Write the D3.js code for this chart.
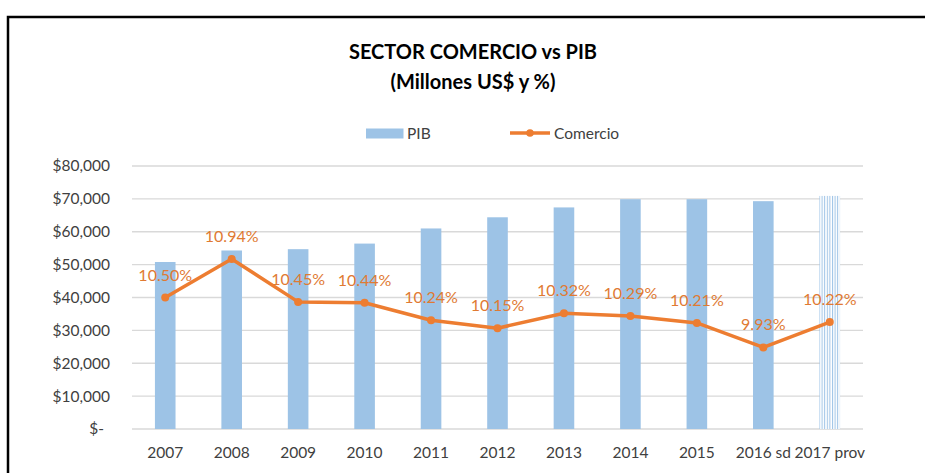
<!DOCTYPE html>
<html>
<head>
<meta charset="utf-8">
<script src="https://cdn.jsdelivr.net/npm/d3@7/dist/d3.min.js"></script>
<style>
  html, body { margin: 0; padding: 0; background: #fff; }
  svg { display: block; }
  text { font-family: Lato, "Open Sans", sans-serif; }
</style>
</head>
<body>
<svg id="chart" width="925" height="473"></svg>
<script>
const categories = ["2007","2008","2009","2010","2011","2012","2013","2014","2015","2016 sd","2017 prov"];
const pib = [50800, 54300, 54700, 56400, 61000, 64400, 67400, 69900, 69900, 69300, 70900];
const comercio = [10.50, 10.94, 10.45, 10.44, 10.24, 10.15, 10.32, 10.29, 10.21, 9.93, 10.22];
const yTicks = [0, 10000, 20000, 30000, 40000, 50000, 60000, 70000, 80000];
const yTickLabels = ["$-", "$10,000", "$20,000", "$30,000", "$40,000", "$50,000", "$60,000", "$70,000", "$80,000"];
const titleLines = ["SECTOR COMERCIO vs PIB", "(Millones US$ y %)"];
const legendLabels = ["PIB", "Comercio"];

const svg = d3.select("#chart");
const W = 925, H = 473;
const plot = { left: 132, right: 863, top: 166, bottom: 429 };

// frame
svg.append("rect").attr("x", 0).attr("y", 0).attr("width", W).attr("height", H).attr("fill", "#fff");
svg.append("path")
  .attr("d", `M8,${H+5} L8,17 L${W+5},17`)
  .attr("fill", "none").attr("stroke", "#000").attr("stroke-width", 2.5);

// pattern for provisional bar
const defs = svg.append("defs");
const pat = defs.append("pattern").attr("id", "stripes").attr("patternUnits", "userSpaceOnUse")
  .attr("width", 2.6).attr("height", 10);
pat.append("rect").attr("width", 2.6).attr("height", 10).attr("fill", "#fff");
pat.append("rect").attr("x", 0).attr("width", 1).attr("height", 10).attr("fill", "#9DC3E6");

const x = d3.scaleBand().domain(categories).range([plot.left, plot.right]).paddingInner(0.69).paddingOuter(0.345);
const y = d3.scaleLinear().domain([0, 80000]).range([plot.bottom, plot.top]);
const y2 = d3.scaleLinear().domain([9, 12]).range([plot.bottom, plot.top]);

// title
svg.append("g").selectAll("text").data(titleLines).join("text")
  .attr("x", 473).attr("y", (d, i) => 59 + i * 30)
  .attr("text-anchor", "middle").attr("font-weight", "bold").attr("font-size", 20)
  .attr("fill", "#000").text(d => d);

// legend
const lg = svg.append("g");
lg.append("rect").attr("x", 366).attr("y", 128.5).attr("width", 37.5).attr("height", 10).attr("fill", "#9DC3E6");
lg.append("text").attr("x", 407).attr("y", 139).attr("font-size", 15.5).attr("fill", "#404040").text(legendLabels[0]);
lg.append("line").attr("x1", 510).attr("x2", 550).attr("y1", 133).attr("y2", 133).attr("stroke", "#ED7D31").attr("stroke-width", 3.5);
lg.append("circle").attr("cx", 530).attr("cy", 133).attr("r", 3.8).attr("fill", "#ED7D31");
lg.append("text").attr("x", 554).attr("y", 139).attr("font-size", 15.5).attr("fill", "#404040").text(legendLabels[1]);

// gridlines
svg.append("g").selectAll("line").data(yTicks).join("line")
  .attr("x1", plot.left).attr("x2", plot.right)
  .attr("y1", d => y(d)).attr("y2", d => y(d))
  .attr("stroke", "#D9D9D9").attr("stroke-width", 1.3);

// y axis
const yAxis = d3.axisLeft(y).tickValues(yTicks).tickSize(0).tickPadding(0)
  .tickFormat((d, i) => yTickLabels[i]);
const yg = svg.append("g").attr("transform", `translate(110,0)`).call(yAxis);
yg.select(".domain").remove();
yg.selectAll("text").attr("font-size", 15.5).attr("fill", "#404040")
  .attr("font-family", "Lato, sans-serif")
  .attr("dx", (d) => d === 0 ? -6 : 0);

// x axis
const xAxis = d3.axisBottom(x).tickSize(0).tickPadding(0);
const xg = svg.append("g").attr("transform", `translate(0,${plot.bottom})`).call(xAxis);
xg.select(".domain").remove();
xg.selectAll("text").attr("font-size", 15.5).attr("fill", "#404040")
  .attr("font-family", "Lato, sans-serif").attr("dy", "1.15em").attr("y", 11);

// bars
svg.append("g").selectAll("rect").data(pib).join("rect")
  .attr("x", (d, i) => x(categories[i]))
  .attr("y", d => y(d))
  .attr("width", x.bandwidth())
  .attr("height", d => y(0) - y(d))
  .attr("fill", (d, i) => i === categories.length - 1 ? "url(#stripes)" : "#9DC3E6");

// line
const cx = (i) => x(categories[i]) + x.bandwidth() / 2;
const line = d3.line().x((d, i) => cx(i)).y(d => y2(d));
svg.append("path").datum(comercio).attr("d", line)
  .attr("fill", "none").attr("stroke", "#ED7D31").attr("stroke-width", 3.5).attr("stroke-linejoin", "round");
svg.append("g").selectAll("circle").data(comercio).join("circle")
  .attr("cx", (d, i) => cx(i)).attr("cy", d => y2(d)).attr("r", 4).attr("fill", "#ED7D31");

// data labels
svg.append("g").selectAll("text").data(comercio).join("text")
  .attr("x", (d, i) => cx(i)).attr("y", d => y2(d) - 17)
  .attr("text-anchor", "middle").attr("font-size", 16).attr("fill", "#E07A33")
  .text(d => d.toFixed(2) + "%");
</script>
</body>
</html>
